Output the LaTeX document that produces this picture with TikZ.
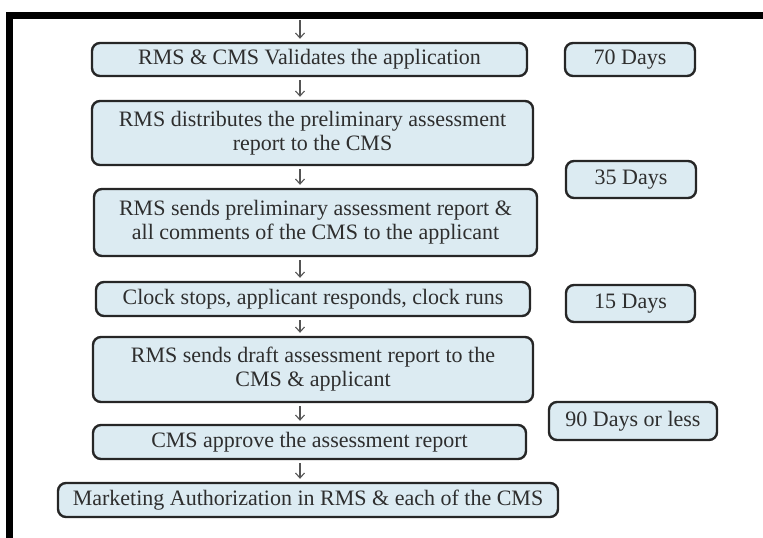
\documentclass[tikz,border=0pt]{standalone}
\usepackage{fontspec}
\setmainfont{Liberation Serif}
\usetikzlibrary{arrows.meta}
\definecolor{boxfill}{HTML}{DCEBF2}
\definecolor{boxtext}{HTML}{2E2E2E}
\definecolor{flowgray}{HTML}{555555}
\tikzset{
  stepbox/.style={draw=black!85, line width=2.4pt, rounded corners=8pt, fill=boxfill,
    text=boxtext, align=center, inner sep=0pt, font=\fontsize{22}{24}\selectfont},
  daybox/.style={stepbox},
  flow/.style={draw=flowgray, line width=1.1pt, -{Straight Barb[length=5pt,width=9pt]},
    shorten <=3pt, shorten >=3pt}
}
\begin{document}
\begin{tikzpicture}[x=1pt,y=-1pt]
    \useasboundingbox (0,0) rectangle (763,538);
    % Frame (top and left only)
    \fill[black] (6,12) rectangle (763,18.5);
    \fill[black] (6,12) rectangle (13,538);
    
    % Steps
    \node (v1) at (309.5,59.5) [stepbox, minimum width=435, minimum height=33] {RMS \& CMS Validates the application};
    \node (v2) at (312.5,133) [stepbox, minimum width=441, minimum height=64] {RMS distributes the preliminary assessment\\report to the CMS};
    \node (v3) at (315.5,222.5) [stepbox, minimum width=443, minimum height=67] {RMS sends preliminary assessment report \&\\all comments of the CMS to the applicant};
    \node (v4) at (313,299) [stepbox, minimum width=434, minimum height=34] {Clock stops, applicant responds, clock runs};
    \node (v5) at (313,369.5) [stepbox, minimum width=440, minimum height=65] {RMS sends draft assessment report to the\\CMS \& applicant};
    \node (v6) at (309.5,442) [stepbox, minimum width=433, minimum height=34] {CMS approve the assessment report};
    \node (v7) at (308,500) [stepbox, minimum width=500, minimum height=34] {Marketing Authorization in RMS \& each of the CMS};
    
    % Durations
    \node (d1) at (630,59.5) [daybox, minimum width=130, minimum height=33] {70 Days};
    \node (d2) at (631,179.5) [daybox, minimum width=130, minimum height=37] {35 Days};
    \node (d3) at (630.5,303.5) [daybox, minimum width=129, minimum height=37] {15 Days};
    \node (d4) at (633,421) [daybox, minimum width=168, minimum height=38] {90 Days or less};
    
    % Arrows
    \coordinate (ax) at (300,0);
    \coordinate (top) at (300,17);
    \draw[flow] (top) -- (v1.north -| ax);
    \draw[flow] (v1.south -| ax) -- (v2.north -| ax);
    \draw[flow] (v2.south -| ax) -- (v3.north -| ax);
    \draw[flow] (v3.south -| ax) -- (v4.north -| ax);
    \draw[flow] (v4.south -| ax) -- (v5.north -| ax);
    \draw[flow] (v5.south -| ax) -- (v6.north -| ax);
    \draw[flow] (v6.south -| ax) -- (v7.north -| ax);
\end{tikzpicture}
\end{document}
